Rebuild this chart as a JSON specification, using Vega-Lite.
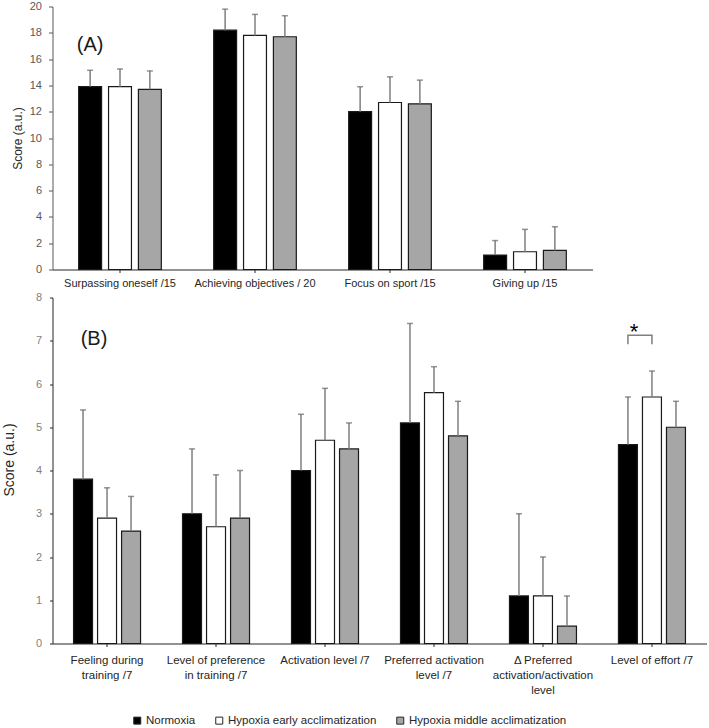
{
  "$schema": "https://vega.github.io/schema/vega-lite/v6.json",
  "background": "white",
  "padding": {"left": 2.5, "top": 0.5, "right": 2, "bottom": 2},
  "bounds": "flush",
  "spacing": 28,
  "config": {
    "font": "Liberation Sans",
    "view": {"stroke": null},
    "axis": {"grid": false},
    "axisY": {"labelOverlap": false, "labelFlush": false, "labelSeparation": 0}
  },
  "resolve": {
    "scale": {"color": "shared", "x": "independent", "y": "independent", "xOffset": "independent"}
  },
  "datasets": {
    "motivation": [
      {"measure": "Surpassing oneself /15", "group": "Normoxia", "mean": 13.9, "upper": 15.15},
      {"measure": "Surpassing oneself /15", "group": "Hypoxia early acclimatization", "mean": 13.9, "upper": 15.25},
      {"measure": "Surpassing oneself /15", "group": "Hypoxia middle acclimatization", "mean": 13.7, "upper": 15.1},
      {"measure": "Achieving objectives / 20", "group": "Normoxia", "mean": 18.2, "upper": 19.8},
      {"measure": "Achieving objectives / 20", "group": "Hypoxia early acclimatization", "mean": 17.8, "upper": 19.4},
      {"measure": "Achieving objectives / 20", "group": "Hypoxia middle acclimatization", "mean": 17.7, "upper": 19.3},
      {"measure": "Focus on sport /15", "group": "Normoxia", "mean": 12.0, "upper": 13.9},
      {"measure": "Focus on sport /15", "group": "Hypoxia early acclimatization", "mean": 12.7, "upper": 14.65},
      {"measure": "Focus on sport /15", "group": "Hypoxia middle acclimatization", "mean": 12.6, "upper": 14.4},
      {"measure": "Giving up /15", "group": "Normoxia", "mean": 1.1, "upper": 2.2},
      {"measure": "Giving up /15", "group": "Hypoxia early acclimatization", "mean": 1.35, "upper": 3.05},
      {"measure": "Giving up /15", "group": "Hypoxia middle acclimatization", "mean": 1.45, "upper": 3.25}
    ],
    "training": [
      {"measure": "Feeling during\ntraining /7", "group": "Normoxia", "mean": 3.8, "upper": 5.4},
      {"measure": "Feeling during\ntraining /7", "group": "Hypoxia early acclimatization", "mean": 2.9, "upper": 3.6},
      {"measure": "Feeling during\ntraining /7", "group": "Hypoxia middle acclimatization", "mean": 2.6, "upper": 3.4},
      {"measure": "Level of preference\nin training /7", "group": "Normoxia", "mean": 3.0, "upper": 4.5},
      {"measure": "Level of preference\nin training /7", "group": "Hypoxia early acclimatization", "mean": 2.7, "upper": 3.9},
      {"measure": "Level of preference\nin training /7", "group": "Hypoxia middle acclimatization", "mean": 2.9, "upper": 4.0},
      {"measure": "Activation level /7", "group": "Normoxia", "mean": 4.0, "upper": 5.3},
      {"measure": "Activation level /7", "group": "Hypoxia early acclimatization", "mean": 4.7, "upper": 5.9},
      {"measure": "Activation level /7", "group": "Hypoxia middle acclimatization", "mean": 4.5, "upper": 5.1},
      {"measure": "Preferred activation\nlevel /7", "group": "Normoxia", "mean": 5.1, "upper": 7.4},
      {"measure": "Preferred activation\nlevel /7", "group": "Hypoxia early acclimatization", "mean": 5.8, "upper": 6.4},
      {"measure": "Preferred activation\nlevel /7", "group": "Hypoxia middle acclimatization", "mean": 4.8, "upper": 5.6},
      {"measure": "Δ Preferred\nactivation/activation\nlevel", "group": "Normoxia", "mean": 1.1, "upper": 3.0},
      {"measure": "Δ Preferred\nactivation/activation\nlevel", "group": "Hypoxia early acclimatization", "mean": 1.1, "upper": 2.0},
      {"measure": "Δ Preferred\nactivation/activation\nlevel", "group": "Hypoxia middle acclimatization", "mean": 0.4, "upper": 1.1},
      {"measure": "Level of effort /7", "group": "Normoxia", "mean": 4.6, "upper": 5.7},
      {"measure": "Level of effort /7", "group": "Hypoxia early acclimatization", "mean": 5.7, "upper": 6.3},
      {"measure": "Level of effort /7", "group": "Hypoxia middle acclimatization", "mean": 5.0, "upper": 5.6}
    ],
    "panelA": [
      {"measure": "Surpassing oneself /15", "group": "Normoxia", "level": 17.1, "label": "(A)"}
    ],
    "panelB": [
      {"measure": "Feeling during\ntraining /7", "group": "Normoxia", "level": 7.05, "label": "(B)"}
    ],
    "bracket": [
      {"measure": "Level of effort /7", "group": "Normoxia", "step": 1, "level": 6.92},
      {"measure": "Level of effort /7", "group": "Normoxia", "step": 2, "level": 7.13},
      {"measure": "Level of effort /7", "group": "Hypoxia early acclimatization", "step": 3, "level": 7.13},
      {"measure": "Level of effort /7", "group": "Hypoxia early acclimatization", "step": 4, "level": 6.92}
    ],
    "star": [
      {"measure": "Level of effort /7", "group": "Normoxia", "level": 7.05, "label": "*"}
    ]
  },
  "vconcat": [
    {
      "width": 540,
      "height": 263,
      "encoding": {
        "x": {
          "field": "measure",
          "type": "nominal",
          "title": null,
          "scale": {
            "domain": ["Surpassing oneself /15", "Achieving objectives / 20", "Focus on sport /15", "Giving up /15"],
            "paddingInner": 0.336,
            "paddingOuter": 0.168
          },
          "axis": {
            "labelAngle": 0,
            "labelFontSize": 11,
            "labelColor": "#262626",
            "labelPadding": 5,
            "labelOverlap": false,
            "tickSize": 3,
            "tickColor": "#262626",
            "domainColor": "#262626",
            "domainWidth": 1.2
          }
        },
        "xOffset": {
          "field": "group",
          "type": "nominal",
          "scale": {
            "domain": ["Normoxia", "Hypoxia early acclimatization", "Hypoxia middle acclimatization"],
            "paddingInner": 0.233,
            "paddingOuter": 0.117
          }
        }
      },
      "layer": [
        {
          "data": {"name": "motivation"},
          "mark": {"type": "bar", "stroke": "#1a1a1a", "strokeWidth": 1.2},
          "encoding": {
            "y": {
              "field": "mean",
              "type": "quantitative",
              "title": "Score (a.u.)",
              "scale": {"domain": [0, 20], "nice": false},
              "axis": {
                "values": [0, 2, 4, 6, 8, 10, 12, 14, 16, 18, 20],
                "tickCount": 11,
                "labelOverlap": false,
                "titleFontSize": 12,
                "titleFontWeight": "normal",
                "titleColor": "#262626",
                "titlePadding": 5,
                "labelFontSize": 11,
                "labelColor": "#595959",
                "labelPadding": 7,
                "tickSize": 4,
                "tickColor": "#595959",
                "domainColor": "#595959"
              }
            },
            "color": {
              "field": "group",
              "type": "nominal",
              "scale": {
                "domain": ["Normoxia", "Hypoxia early acclimatization", "Hypoxia middle acclimatization"],
                "range": ["#000000", "#ffffff", "#a6a6a6"]
              },
              "legend": {
                "title": null,
                "orient": "none",
                "legendX": 79,
                "legendY": 708,
                "direction": "horizontal",
                "symbolType": "square",
                "symbolSize": 49,
                "symbolStrokeColor": "#262626",
                "symbolStrokeWidth": 1,
                "labelFontSize": 11.5,
                "labelColor": "#262626",
                "columnPadding": 18,
                "labelOffset": 3,
                "padding": 0
              }
            }
          }
        },
        {
          "data": {"name": "motivation"},
          "mark": {"type": "rule", "color": "#7f7f7f", "strokeWidth": 1.5},
          "encoding": {
            "y": {"field": "mean", "type": "quantitative", "title": "Score (a.u.)"},
            "y2": {"field": "upper"}
          }
        },
        {
          "data": {"name": "motivation"},
          "mark": {"type": "tick", "orient": "horizontal", "color": "#666666", "size": 6, "thickness": 1.5},
          "encoding": {
            "y": {"field": "upper", "type": "quantitative", "title": "Score (a.u.)"}
          }
        },
        {
          "data": {"name": "panelA"},
          "mark": {"type": "text", "fontSize": 20, "color": "#1a1a1a", "baseline": "middle", "align": "center"},
          "encoding": {
            "y": {"field": "level", "type": "quantitative", "title": "Score (a.u.)"},
            "text": {"field": "label"}
          }
        }
      ]
    },
    {
      "width": 654,
      "height": 346,
      "encoding": {
        "x": {
          "field": "measure",
          "type": "nominal",
          "title": null,
          "scale": {
            "domain": [
              "Feeling during\ntraining /7",
              "Level of preference\nin training /7",
              "Activation level /7",
              "Preferred activation\nlevel /7",
              "Δ Preferred\nactivation/activation\nlevel",
              "Level of effort /7"
            ],
            "paddingInner": 0.339,
            "paddingOuter": 0.17
          },
          "axis": {
            "labelAngle": 0,
            "labelExpr": "split(datum.label, '\\n')",
            "labelLineHeight": 15,
            "labelFontSize": 11.5,
            "labelColor": "#262626",
            "labelPadding": 8,
            "labelOverlap": false,
            "labelLimit": 200,
            "tickSize": 3,
            "tickColor": "#262626",
            "domainColor": "#262626",
            "domainWidth": 1.2
          }
        },
        "xOffset": {
          "field": "group",
          "type": "nominal",
          "scale": {
            "domain": ["Normoxia", "Hypoxia early acclimatization", "Hypoxia middle acclimatization"],
            "paddingInner": 0.21,
            "paddingOuter": 0.105
          }
        }
      },
      "layer": [
        {
          "data": {"name": "training"},
          "mark": {"type": "bar", "stroke": "#1a1a1a", "strokeWidth": 1.2},
          "encoding": {
            "y": {
              "field": "mean",
              "type": "quantitative",
              "title": "Score (a.u.)",
              "scale": {"domain": [0, 8], "nice": false},
              "axis": {
                "values": [0, 1, 2, 3, 4, 5, 6, 7, 8],
                "labelOverlap": false,
                "titleFontSize": 14,
                "titleFontWeight": "normal",
                "titleColor": "#262626",
                "titlePadding": 18.5,
                "titleY": 162,
                "labelFontSize": 11,
                "labelColor": "#7f7f7f",
                "labelPadding": 8,
                "tickSize": 3,
                "tickColor": "#262626",
                "domainColor": "#262626"
              }
            },
            "color": {
              "field": "group",
              "type": "nominal",
              "scale": {
                "domain": ["Normoxia", "Hypoxia early acclimatization", "Hypoxia middle acclimatization"],
                "range": ["#000000", "#ffffff", "#a6a6a6"]
              },
              "legend": {
                "title": null,
                "orient": "none",
                "legendX": 79,
                "legendY": 708,
                "direction": "horizontal",
                "symbolType": "square",
                "symbolSize": 49,
                "symbolStrokeColor": "#262626",
                "symbolStrokeWidth": 1,
                "labelFontSize": 11.5,
                "labelColor": "#262626",
                "columnPadding": 18,
                "labelOffset": 3,
                "padding": 0
              }
            }
          }
        },
        {
          "data": {"name": "training"},
          "mark": {"type": "rule", "color": "#7f7f7f", "strokeWidth": 1.5},
          "encoding": {
            "y": {"field": "mean", "type": "quantitative", "title": "Score (a.u.)"},
            "y2": {"field": "upper"}
          }
        },
        {
          "data": {"name": "training"},
          "mark": {"type": "tick", "orient": "horizontal", "color": "#666666", "size": 6, "thickness": 1.5},
          "encoding": {
            "y": {"field": "upper", "type": "quantitative", "title": "Score (a.u.)"}
          }
        },
        {
          "data": {"name": "bracket"},
          "mark": {"type": "line", "color": "#7f7f7f", "strokeWidth": 1.5, "xOffset": -6},
          "encoding": {
            "y": {"field": "level", "type": "quantitative", "title": "Score (a.u.)"},
            "order": {"field": "step", "type": "quantitative"}
          }
        },
        {
          "data": {"name": "star"},
          "mark": {"type": "text", "fontSize": 22, "color": "#000000", "baseline": "alphabetic", "align": "center", "dx": 6},
          "encoding": {
            "y": {"field": "level", "type": "quantitative", "title": "Score (a.u.)"},
            "text": {"field": "label"}
          }
        },
        {
          "data": {"name": "panelB"},
          "mark": {"type": "text", "fontSize": 20, "color": "#1a1a1a", "baseline": "middle", "align": "center", "dx": 11},
          "encoding": {
            "y": {"field": "level", "type": "quantitative", "title": "Score (a.u.)"},
            "text": {"field": "label"}
          }
        }
      ]
    }
  ]
}
